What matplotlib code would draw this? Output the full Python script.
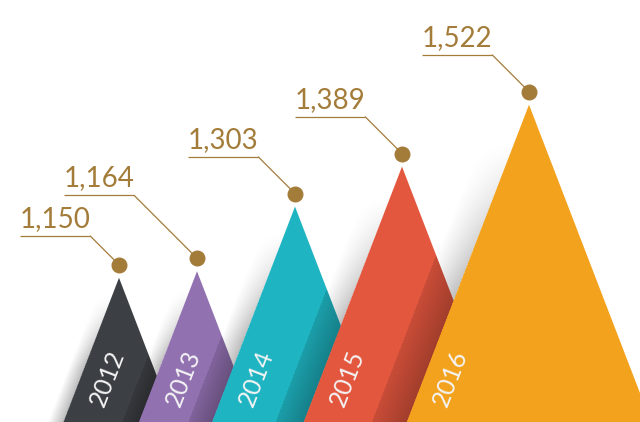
import numpy as np
import matplotlib
matplotlib.use('Agg')
import matplotlib.pyplot as plt
from matplotlib.patches import Polygon
from matplotlib.transforms import offset_copy

# data
years = ['2012', '2013', '2014', '2015', '2016']
values = [1150, 1164, 1303, 1389, 1522]

# layout / style
x_centers = [119, 197, 295, 402, 529]
colors = ['#3c3f44', '#9271b1', '#1fb4c1', '#e4573f', '#f3a21d']
leader_dx = [29, 63, 37, 37, 37]
gold = '#a47c3a'
half_ratio = 0.385   # half base width / height
v_base, v_top = 840, 1747

fig = plt.figure(figsize=(6.4, 4.22), dpi=100)
ax = fig.add_axes([0, 0, 1, 1])
ax.set_xlim(0, 640)
ax.set_ylim(v_base, v_top)
ax.axis('off')

W, H = 640, 422
k = H / (v_top - v_base)  # pixels per value unit
xx = np.arange(W) + 0.5
yy = v_top - (np.arange(H) + 0.5) / k
X, Y = np.meshgrid(xx, yy)

patches = []
for i, (yr, v, xc, col) in enumerate(zip(years, values, x_centers, colors)):
    h = (v - v_base) * k
    hw = half_ratio * h
    tri = Polygon([(xc, v), (xc - hw, v_base), (xc + hw, v_base)],
                  closed=True, facecolor=col, edgecolor='none', zorder=10 + 2 * i)
    ax.add_patch(tri)
    patches.append(tri)

    # shadow to the left of the triangle
    xl = xc - half_ratio * (v - Y) * k
    d = xl - X
    w = 0.11 * h
    t = (v - Y) / (v - v_base)
    inside = (d >= 0) & (d <= w) & (Y <= v)
    prof = np.where(inside, 1 - d / w, 0.0)
    fade = np.clip((t - 0.12) / 0.5, 0, 1)
    soft = np.zeros((H, W, 4))
    soft[..., 3] = 0.26 * prof * fade
    ax.imshow(soft, extent=(0, W, v_base, v_top), origin='upper',
              aspect='auto', interpolation='bilinear', zorder=1)

    if i > 0:
        hard = np.zeros((H, W, 4))
        hard[..., 3] = np.where(inside, 0.12 + 0.17 * (1 - d / w), 0.0)
        im = ax.imshow(hard, extent=(0, W, v_base, v_top), origin='upper',
                       aspect='auto', interpolation='bilinear', zorder=10 + 2 * i - 1)
        im.set_clip_path(patches[i - 1])

    # year label along the left edge
    y_lab = v_base + 44 / k
    x_lab = xc - half_ratio * (v - y_lab) * k + 27
    ax.text(x_lab, y_lab, yr, rotation=68.9, rotation_mode='anchor',
            ha='center', va='center', color='#f4f4f4', fontsize=18,
            family='Lato', fontweight='normal', zorder=30)

    # dot, leader line and value label (pixel offsets from the dot)
    dot_tr = offset_copy(ax.transData, fig=fig, x=0, y=13, units='dots')
    ax.plot([xc], [v], 'o', ms=10.5, color=gold, transform=dot_tr, zorder=31)
    dx = leader_dx[i]
    for (x0, y0), (x1, y1) in ([(0, 0), (-dx, dx)], [(-dx, dx), (-dx - 70, dx)]):
        tr0 = offset_copy(ax.transData, fig=fig, x=x0, y=13 + y0, units='dots')
        tr1 = offset_copy(ax.transData, fig=fig, x=x1, y=13 + y1, units='dots')
        p0 = tr0.transform((xc, v))
        p1 = tr1.transform((xc, v))
        ax.plot([p0[0], p1[0]], [p0[1], p1[1]], color=gold, lw=0.9,
                transform=None, zorder=31, solid_capstyle='butt')
    lab_tr = offset_copy(ax.transData, fig=fig, x=-dx - 70, y=13 + dx + 9, units='dots')
    ax.text(xc, v, f'{v:,}', transform=lab_tr, ha='left', va='baseline',
            color=gold, fontsize=20, family='Lato', fontweight='normal', zorder=31)

fig.savefig('out.png', dpi=100)
